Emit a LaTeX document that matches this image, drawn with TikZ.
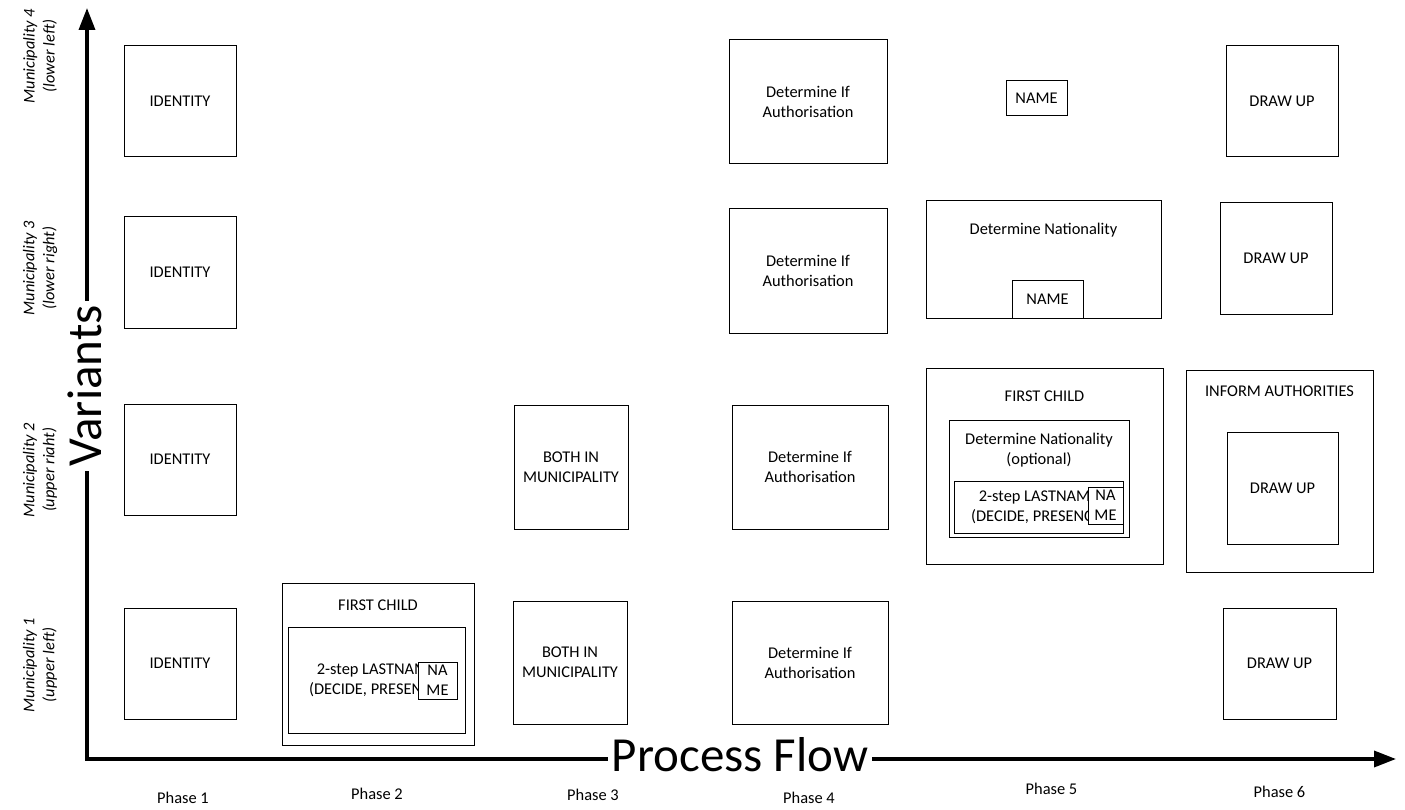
\documentclass[tikz,border=0pt]{standalone}
\usepackage{fontspec}
\setmainfont{Carlito}
\usetikzlibrary{arrows.meta}
\begin{document}
\begin{tikzpicture}[x=1pt,y=-1pt,
  every node/.style={font=\fontsize{16.4}{20}\selectfont},
  blk/.style 2 args={draw, line width=1pt, fill=white, inner sep=0pt,
    align=center, minimum width=#1, minimum height=#2},
  txt/.style={inner sep=0pt, align=center},
  rowlab/.style={inner sep=0pt, align=center, rotate=90,
    font=\fontsize{16.4}{20}\selectfont\itshape},
  axis/.style={line width=3.5pt, line join=miter},
  tip/.style={Triangle[length=22pt,width=16pt]},
  axlab/.style={fill=white, inner sep=4pt, font=\fontsize{49}{55}\selectfont}
]
\useasboundingbox (0,0) rectangle (1405,810);

% axes
\coordinate (ytip) at (87,8);
\coordinate (orig) at (87,759);
\coordinate (xtip) at (1396,759);
\draw[axis, {Triangle[length=22pt,width=16pt]}-{Triangle[length=22pt,width=16pt]}]
  (ytip) -- (orig) -- (xtip);
\node[axlab, rotate=90] (variants) at (85,386) {Variants};
\node[axlab] (flow) at (740,755) {Process Flow};

% row labels
\node[rowlab] (m4) at (40,56) {Municipality 4\\(lower left)};
\node[rowlab] (m3) at (40,268) {Municipality 3\\(lower right)};
\node[rowlab] (m2) at (40,470) {Municipality 2\\(upper riaht)};
\node[rowlab] (m1) at (40,665) {Municipality 1\\(upper left)};

% phase labels
\node[txt] (ph1) at (183,798) {Phase 1};
\node[txt] (ph2) at (377,794) {Phase 2};
\node[txt] (ph3) at (593,795) {Phase 3};
\node[txt] (ph4) at (809,798) {Phase 4};
\node[txt] (ph5) at (1051.5,789) {Phase 5};
\node[txt] (ph6) at (1279.5,792) {Phase 6};

% phase 1
\node[blk={112pt}{111pt}] (id4) at (180,101.5) {IDENTITY};
\node[blk={112pt}{111pt}] (id3) at (180,272.5) {IDENTITY};
\node[blk={112pt}{111pt}] (id2) at (180,459.5) {IDENTITY};
\node[blk={112pt}{111pt}] (id1) at (180,663.5) {IDENTITY};

% phase 2
\node[blk={192pt}{162pt}] (fc2) at (378,664) {};
\node[txt] (fc2t) at (378,605) {FIRST CHILD};
\node[blk={177pt}{106pt}] (ln2) at (376.5,680) {2-step LASTNAME\\(DECIDE, PRESENCE)};
\node[blk={39pt}{37pt}] (na2) at (437.5,680.5) {NA\\ME};

% phase 3
\node[blk={114pt}{124pt}] (bm2) at (571,467) {BOTH IN\\MUNICIPALITY};
\node[blk={114pt}{123pt}] (bm1) at (570,662.5) {BOTH IN\\MUNICIPALITY};

% phase 4
\node[blk={158pt}{124pt}] (au4) at (808,102) {Determine If\\Authorisation};
\node[blk={158pt}{124pt}] (au3) at (808,271) {Determine If\\Authorisation};
\node[blk={156pt}{124pt}] (au2) at (810,467) {Determine If\\Authorisation};
\node[blk={156pt}{123pt}] (au1) at (810,662.5) {Determine If\\Authorisation};

% phase 5
\node[blk={61pt}{35pt}] (nm4) at (1036.5,98.5) {NAME};
\node[blk={235pt}{117pt}] (dn3) at (1043.5,259.5) {};
\node[txt] (dn3t) at (1043.5,230) {Determine Nationality};
\node[blk={71pt}{37pt}] (nm3) at (1047.5,299.5) {NAME};
\node[blk={237pt}{196pt}] (fc5) at (1044.5,466) {};
\node[txt] (fc5t) at (1044.5,396) {FIRST CHILD};
\node[blk={180pt}{117pt}] (dn5) at (1039,478.5) {};
\node[txt] (dn5t) at (1039,450) {Determine Nationality\\(optional)};
\node[blk={169pt}{52pt}] (ln5) at (1038.5,507) {2-step LASTNAME\\(DECIDE, PRESENCE)};
\node[blk={35pt}{37pt}] (na5) at (1105.5,505.5) {NA\\ME};

% phase 6
\node[blk={112pt}{111pt}] (du4) at (1282,101.5) {DRAW UP};
\node[blk={112pt}{111pt}] (du3) at (1276,258.5) {DRAW UP};
\node[blk={187pt}{202pt}] (ia6) at (1279.5,471) {};
\node[txt] (ia6t) at (1279.5,391) {INFORM AUTHORITIES};
\node[blk={111pt}{112pt}] (du2) at (1282.5,488) {DRAW UP};
\node[blk={113pt}{111pt}] (du1) at (1279.5,663.5) {DRAW UP};
\end{tikzpicture}
\end{document}
